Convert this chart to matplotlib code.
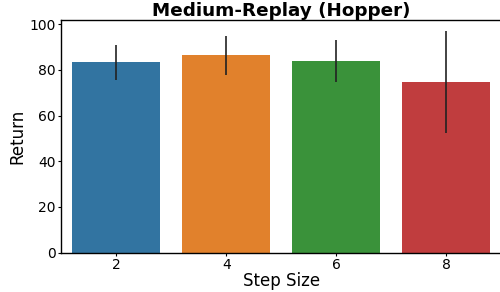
import matplotlib
matplotlib.use("Agg")
import matplotlib.pyplot as plt
import numpy as np

categories = ["2", "4", "6", "8"]
means = [83.5, 86.6, 83.9, 74.7]
err_low = [75.7, 77.9, 74.7, 52.5]
err_high = [90.9, 94.7, 93.1, 96.9]
colors = ["#3274a1", "#e1812c", "#3a923a", "#c03d3e"]

fig = plt.figure(figsize=(5, 2.92), dpi=100)
ax = fig.add_axes([0.1227, 0.1346, 1.003 - 0.1227, 0.9305 - 0.1346])

x = np.arange(len(categories))
ax.bar(x, means, width=0.8, color=colors)
for xi, lo, hi in zip(x, err_low, err_high):
    ax.plot([xi, xi], [lo, hi], color="#222222", linewidth=1.2, solid_capstyle="butt")

ax.set_xlim(-0.5, len(categories) - 0.5)
ax.set_ylim(0, 101.7)
ax.set_xticks(x)
ax.set_xticklabels(categories)
ax.set_yticks([0, 20, 40, 60, 80, 100])
ax.tick_params(labelsize=10, length=2, width=0.8, pad=2)
ax.tick_params(axis="x", pad=1.5)
ax.set_xlabel("Step Size", fontsize=12, labelpad=0.5)
ax.set_ylabel("Return", fontsize=12, labelpad=2)
ax.set_title("Medium-Replay (Hopper)", fontsize=13.2, fontweight="bold", pad=3)
for s in ax.spines.values():
    s.set_linewidth(1.0)

fig.savefig("out.png", dpi=100)
